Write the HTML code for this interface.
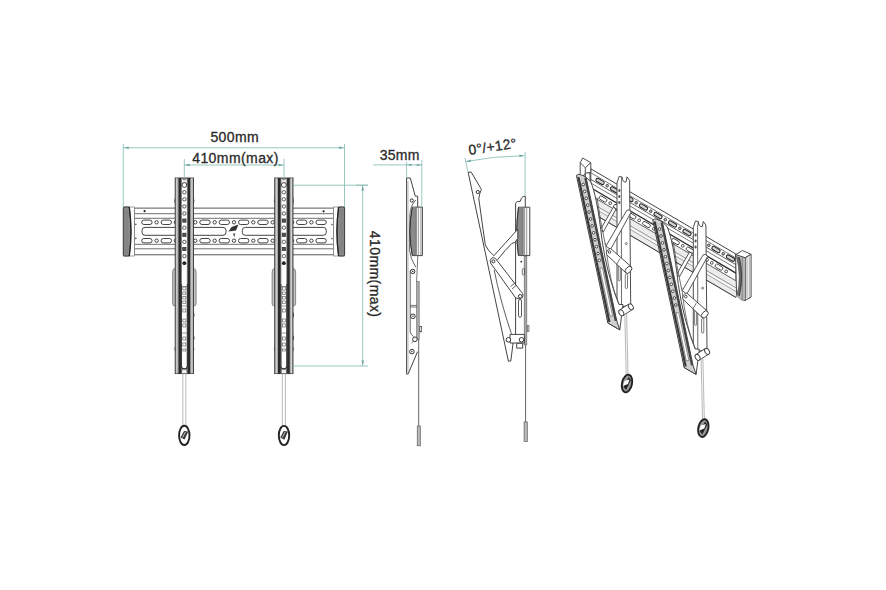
<!DOCTYPE html>
<html><head><meta charset="utf-8"><style>
html,body{margin:0;padding:0;background:#fff;}
svg{display:block;}
text{font-family:"Liberation Sans",sans-serif;fill:#2a2a2a;stroke:#2a2a2a;stroke-width:0.3px;letter-spacing:0.42px;}
</style></head><body>
<svg width="886" height="590" viewBox="0 0 886 590">
<rect width="886" height="590" fill="#fff"/>
<!-- ===== FRONT VIEW ===== -->
<g id="front">
<rect x="134.5" y="208.1" width="199" height="46.7" fill="#fff" stroke="#444" stroke-width="0.9"/>
<g stroke="#555" stroke-width="0.85" fill="none">
<line x1="134.5" y1="213.7" x2="333.5" y2="213.7"/>
<line x1="134.5" y1="218.3" x2="333.5" y2="218.3"/>
<line x1="134.5" y1="244.3" x2="333.5" y2="244.3"/>
<line x1="134.5" y1="248.8" x2="333.5" y2="248.8"/>
</g>
<g fill="#fff" stroke="#3a3a3a" stroke-width="0.95">
<circle cx="156.6" cy="222.3" r="1.7"/>
<circle cx="175.9" cy="222.3" r="1.7"/>
<circle cx="195.3" cy="222.3" r="1.7"/>
<circle cx="214.7" cy="222.3" r="1.7"/>
<circle cx="234.0" cy="222.3" r="1.7"/>
<circle cx="253.3" cy="222.3" r="1.7"/>
<circle cx="272.7" cy="222.3" r="1.7"/>
<circle cx="292.1" cy="222.3" r="1.7"/>
<circle cx="311.4" cy="222.3" r="1.7"/>
<rect x="141.7" y="220.1" width="10.4" height="4.4" rx="2.2"/>
<rect x="161.1" y="220.1" width="10.4" height="4.4" rx="2.2"/>
<rect x="180.4" y="220.1" width="10.4" height="4.4" rx="2.2"/>
<rect x="199.8" y="220.1" width="10.4" height="4.4" rx="2.2"/>
<rect x="219.1" y="220.1" width="10.4" height="4.4" rx="2.2"/>
<rect x="238.5" y="220.1" width="10.4" height="4.4" rx="2.2"/>
<rect x="257.8" y="220.1" width="10.4" height="4.4" rx="2.2"/>
<rect x="277.2" y="220.1" width="10.4" height="4.4" rx="2.2"/>
<rect x="296.5" y="220.1" width="10.4" height="4.4" rx="2.2"/>
<rect x="315.9" y="220.1" width="10.4" height="4.4" rx="2.2"/>
<circle cx="156.6" cy="240.7" r="1.7"/>
<circle cx="175.9" cy="240.7" r="1.7"/>
<circle cx="195.3" cy="240.7" r="1.7"/>
<circle cx="214.7" cy="240.7" r="1.7"/>
<circle cx="234.0" cy="240.7" r="1.7"/>
<circle cx="253.3" cy="240.7" r="1.7"/>
<circle cx="272.7" cy="240.7" r="1.7"/>
<circle cx="292.1" cy="240.7" r="1.7"/>
<circle cx="311.4" cy="240.7" r="1.7"/>
<rect x="141.7" y="238.5" width="10.4" height="4.4" rx="2.2"/>
<rect x="161.1" y="238.5" width="10.4" height="4.4" rx="2.2"/>
<rect x="180.4" y="238.5" width="10.4" height="4.4" rx="2.2"/>
<rect x="199.8" y="238.5" width="10.4" height="4.4" rx="2.2"/>
<rect x="219.1" y="238.5" width="10.4" height="4.4" rx="2.2"/>
<rect x="238.5" y="238.5" width="10.4" height="4.4" rx="2.2"/>
<rect x="257.8" y="238.5" width="10.4" height="4.4" rx="2.2"/>
<rect x="277.2" y="238.5" width="10.4" height="4.4" rx="2.2"/>
<rect x="296.5" y="238.5" width="10.4" height="4.4" rx="2.2"/>
<rect x="315.9" y="238.5" width="10.4" height="4.4" rx="2.2"/>
<rect x="142" y="227.4" width="84" height="7.9" rx="3"/>
<rect x="242.3" y="227.4" width="84" height="7.9" rx="3"/>
</g>
<g fill="#555"><circle cx="135.8" cy="224.4" r="0.8"/><circle cx="135.8" cy="238.4" r="0.8"/><circle cx="331.9" cy="224.6" r="0.8"/><circle cx="331.9" cy="238.6" r="0.8"/></g>
<circle cx="144.6" cy="211.2" r="1.1" fill="#222"/>
<circle cx="323.6" cy="211.3" r="1.1" fill="#222"/>
<path d="M228.5 231.5 L231.5 227 L238.5 224.5 L236 230.5 Z" fill="#333"/>
<path d="M233 233.5 l2.4 0 l-1.2 3.5z" fill="#444"/>
<rect x="123.3" y="207" width="11.2" height="49" fill="#fff" stroke="#777" stroke-width="0.7"/>
<path d="M123.3 208 Q123.3 207 124.8 207 L129.3 207 Q132.6 231.5 129.3 256 L124.8 256 Q123.3 256 123.3 255Z" fill="#8c8c8c" stroke="#333" stroke-width="0.9"/>
<path d="M129.3 207 Q132.6 231.5 129.3 256" fill="none" stroke="#222" stroke-width="1.3"/>
<line x1="124.8" y1="209" x2="124.8" y2="254" stroke="#777" stroke-width="0.5"/>
<line x1="126.3" y1="209" x2="126.3" y2="254" stroke="#777" stroke-width="0.5"/>
<line x1="127.8" y1="209" x2="127.8" y2="254" stroke="#777" stroke-width="0.5"/>
<rect x="333.40000000000003" y="207" width="11.2" height="49" fill="#fff" stroke="#777" stroke-width="0.7"/>
<path d="M344.6 208 Q344.6 207 343.1 207 L338.6 207 Q335.3 231.5 338.6 256 L343.1 256 Q344.6 256 344.6 255Z" fill="#8c8c8c" stroke="#333" stroke-width="0.9"/>
<path d="M338.6 207 Q335.3 231.5 338.6 256" fill="none" stroke="#222" stroke-width="1.3"/>
<line x1="343.1" y1="209" x2="343.1" y2="254" stroke="#777" stroke-width="0.5"/>
<line x1="341.6" y1="209" x2="341.6" y2="254" stroke="#777" stroke-width="0.5"/>
<line x1="340.1" y1="209" x2="340.1" y2="254" stroke="#777" stroke-width="0.5"/>
<path d="M175.2 196 Q173.39999999999998 200.5 175.2 205Z" fill="#666"/>
<path d="M193.5 196 Q195.3 200.5 193.5 205Z" fill="#666"/>
<path d="M175.2 268 Q172.2 269 172.6 273 L172.6 304 Q172.6 306 175.2 306" fill="#c4c4c4" stroke="#666" stroke-width="0.7"/>
<path d="M193.5 268 Q196.5 269 196.1 273 L196.1 304 Q196.1 306 193.5 306" fill="#c4c4c4" stroke="#666" stroke-width="0.7"/>
<path d="M175.2 346 Q173.39999999999998 349 175.2 352Z" fill="#666"/>
<path d="M193.5 346 Q195.3 349 193.5 352Z" fill="#666"/>
<path d="M193.5 312 Q195.5 315 193.5 318Z" fill="#333"/>
<path d="M193.5 335 Q195.5 338 193.5 341Z" fill="#333"/>
<rect x="175.2" y="178" width="18.3" height="195.60000000000002" fill="#a8a8a8" stroke="#333" stroke-width="0.9"/>
<line x1="176.79999999999998" y1="178" x2="176.79999999999998" y2="373.6" stroke="#ddd" stroke-width="0.9"/>
<line x1="191.9" y1="178" x2="191.9" y2="373.6" stroke="#ddd" stroke-width="0.9"/>
<rect x="178.5" y="178" width="2.9" height="195.60000000000002" fill="#2a2a2a"/>
<rect x="187.3" y="178" width="2.9" height="195.60000000000002" fill="#2a2a2a"/>
<path d="M181.39999999999998 178 Q184.35 181.5 187.3 178 L187.3 373.6 L181.39999999999998 373.6Z" fill="#eeeeee" stroke="#555" stroke-width="0.6"/>
<path d="M181.35 186 A3 3 0 0 1 187.35 186 L187.35 366 A3 3 0 0 1 181.35 366Z" fill="#fff" stroke="#555" stroke-width="0.75"/>
<path d="M181.35 284 L181.35 366 A3 3 0 0 0 187.35 366 L187.35 284" fill="none" stroke="#333" stroke-width="1.05"/>
<path d="M181.39999999999998 373.1 Q181.39999999999998 368.1 184.35 368.6 Q187.3 368.1 187.3 373.1" fill="none" stroke="#444" stroke-width="0.8"/>
<circle cx="184.35" cy="185" r="2.4" fill="#fff" stroke="#333" stroke-width="0.9"/>
<rect x="182.75" y="190.6" width="3.2" height="3.2" rx="1.2" fill="#fff" stroke="#333" stroke-width="0.8"/>
<rect x="182.75" y="197.7" width="3.2" height="3.2" rx="1.2" fill="#fff" stroke="#333" stroke-width="0.8"/>
<rect x="182.75" y="204.8" width="3.2" height="3.2" rx="1.2" fill="#fff" stroke="#333" stroke-width="0.8"/>
<rect x="182.75" y="211.9" width="3.2" height="3.2" rx="1.2" fill="#fff" stroke="#333" stroke-width="0.8"/>
<rect x="182.75" y="219.0" width="3.2" height="3.2" fill="#555" stroke="#333" stroke-width="0.8"/>
<rect x="182.75" y="226.1" width="3.2" height="3.2" rx="1.2" fill="#fff" stroke="#333" stroke-width="0.8"/>
<rect x="182.75" y="233.2" width="3.2" height="3.2" fill="#555" stroke="#333" stroke-width="0.8"/>
<rect x="182.75" y="240.3" width="3.2" height="3.2" rx="1.2" fill="#fff" stroke="#333" stroke-width="0.8"/>
<rect x="182.75" y="247.4" width="3.2" height="3.2" fill="#555" stroke="#333" stroke-width="0.8"/>
<rect x="182.75" y="254.5" width="3.2" height="3.2" rx="1.2" fill="#fff" stroke="#333" stroke-width="0.8"/>
<circle cx="184.35" cy="263.2" r="1.9" fill="#222"/>
<rect x="182.85" y="287" width="3" height="3" fill="#fff" stroke="#555" stroke-width="0.6"/>
<rect x="182.85" y="292" width="3" height="2.5" fill="#fff" stroke="#555" stroke-width="0.6"/>
<rect x="182.85" y="296.5" width="3" height="2.5" fill="#fff" stroke="#555" stroke-width="0.6"/>
<rect x="182.85" y="301" width="3" height="2.5" fill="#fff" stroke="#555" stroke-width="0.6"/>
<rect x="182.85" y="309" width="3" height="3" fill="#fff" stroke="#555" stroke-width="0.6"/>
<rect x="182.85" y="319" width="3" height="3" fill="#fff" stroke="#555" stroke-width="0.6"/>
<rect x="182.85" y="324" width="3" height="3" fill="#fff" stroke="#555" stroke-width="0.6"/>
<rect x="182.85" y="337" width="3" height="3" fill="#fff" stroke="#555" stroke-width="0.6"/>
<rect x="182.85" y="343" width="3" height="3" fill="#fff" stroke="#555" stroke-width="0.6"/>
<rect x="182.85" y="349" width="3" height="2" fill="#fff" stroke="#555" stroke-width="0.6"/>
<line x1="181.85" y1="286.5" x2="186.85" y2="286.5" stroke="#555" stroke-width="0.6"/>
<line x1="181.85" y1="306" x2="186.85" y2="306" stroke="#555" stroke-width="0.6"/>
<line x1="181.85" y1="333" x2="186.85" y2="333" stroke="#555" stroke-width="0.6"/>
<path d="M274.7 196 Q272.9 200.5 274.7 205Z" fill="#666"/>
<path d="M293.0 196 Q294.8 200.5 293.0 205Z" fill="#666"/>
<path d="M274.7 268 Q271.7 269 272.09999999999997 273 L272.09999999999997 304 Q272.09999999999997 306 274.7 306" fill="#c4c4c4" stroke="#666" stroke-width="0.7"/>
<path d="M293.0 268 Q296.0 269 295.6 273 L295.6 304 Q295.6 306 293.0 306" fill="#c4c4c4" stroke="#666" stroke-width="0.7"/>
<path d="M274.7 346 Q272.9 349 274.7 352Z" fill="#666"/>
<path d="M293.0 346 Q294.8 349 293.0 352Z" fill="#666"/>
<path d="M293.0 312 Q295.0 315 293.0 318Z" fill="#333"/>
<path d="M293.0 335 Q295.0 338 293.0 341Z" fill="#333"/>
<rect x="274.7" y="178" width="18.3" height="195.60000000000002" fill="#a8a8a8" stroke="#333" stroke-width="0.9"/>
<line x1="276.3" y1="178" x2="276.3" y2="373.6" stroke="#ddd" stroke-width="0.9"/>
<line x1="291.4" y1="178" x2="291.4" y2="373.6" stroke="#ddd" stroke-width="0.9"/>
<rect x="278.0" y="178" width="2.9" height="195.60000000000002" fill="#2a2a2a"/>
<rect x="286.8" y="178" width="2.9" height="195.60000000000002" fill="#2a2a2a"/>
<path d="M280.9 178 Q283.84999999999997 181.5 286.8 178 L286.8 373.6 L280.9 373.6Z" fill="#eeeeee" stroke="#555" stroke-width="0.6"/>
<path d="M280.84999999999997 186 A3 3 0 0 1 286.84999999999997 186 L286.84999999999997 366 A3 3 0 0 1 280.84999999999997 366Z" fill="#fff" stroke="#555" stroke-width="0.75"/>
<path d="M280.84999999999997 284 L280.84999999999997 366 A3 3 0 0 0 286.84999999999997 366 L286.84999999999997 284" fill="none" stroke="#333" stroke-width="1.05"/>
<path d="M280.9 373.1 Q280.9 368.1 283.84999999999997 368.6 Q286.8 368.1 286.8 373.1" fill="none" stroke="#444" stroke-width="0.8"/>
<circle cx="283.84999999999997" cy="185" r="2.4" fill="#fff" stroke="#333" stroke-width="0.9"/>
<rect x="282.24999999999994" y="190.6" width="3.2" height="3.2" rx="1.2" fill="#fff" stroke="#333" stroke-width="0.8"/>
<rect x="282.24999999999994" y="197.7" width="3.2" height="3.2" rx="1.2" fill="#fff" stroke="#333" stroke-width="0.8"/>
<rect x="282.24999999999994" y="204.8" width="3.2" height="3.2" rx="1.2" fill="#fff" stroke="#333" stroke-width="0.8"/>
<rect x="282.24999999999994" y="211.9" width="3.2" height="3.2" rx="1.2" fill="#fff" stroke="#333" stroke-width="0.8"/>
<rect x="282.24999999999994" y="219.0" width="3.2" height="3.2" fill="#555" stroke="#333" stroke-width="0.8"/>
<rect x="282.24999999999994" y="226.1" width="3.2" height="3.2" rx="1.2" fill="#fff" stroke="#333" stroke-width="0.8"/>
<rect x="282.24999999999994" y="233.2" width="3.2" height="3.2" fill="#555" stroke="#333" stroke-width="0.8"/>
<rect x="282.24999999999994" y="240.3" width="3.2" height="3.2" rx="1.2" fill="#fff" stroke="#333" stroke-width="0.8"/>
<rect x="282.24999999999994" y="247.4" width="3.2" height="3.2" fill="#555" stroke="#333" stroke-width="0.8"/>
<rect x="282.24999999999994" y="254.5" width="3.2" height="3.2" rx="1.2" fill="#fff" stroke="#333" stroke-width="0.8"/>
<circle cx="283.84999999999997" cy="263.2" r="1.9" fill="#222"/>
<rect x="282.34999999999997" y="287" width="3" height="3" fill="#fff" stroke="#555" stroke-width="0.6"/>
<rect x="282.34999999999997" y="292" width="3" height="2.5" fill="#fff" stroke="#555" stroke-width="0.6"/>
<rect x="282.34999999999997" y="296.5" width="3" height="2.5" fill="#fff" stroke="#555" stroke-width="0.6"/>
<rect x="282.34999999999997" y="301" width="3" height="2.5" fill="#fff" stroke="#555" stroke-width="0.6"/>
<rect x="282.34999999999997" y="309" width="3" height="3" fill="#fff" stroke="#555" stroke-width="0.6"/>
<rect x="282.34999999999997" y="319" width="3" height="3" fill="#fff" stroke="#555" stroke-width="0.6"/>
<rect x="282.34999999999997" y="324" width="3" height="3" fill="#fff" stroke="#555" stroke-width="0.6"/>
<rect x="282.34999999999997" y="337" width="3" height="3" fill="#fff" stroke="#555" stroke-width="0.6"/>
<rect x="282.34999999999997" y="343" width="3" height="3" fill="#fff" stroke="#555" stroke-width="0.6"/>
<rect x="282.34999999999997" y="349" width="3" height="2" fill="#fff" stroke="#555" stroke-width="0.6"/>
<line x1="281.34999999999997" y1="286.5" x2="286.34999999999997" y2="286.5" stroke="#555" stroke-width="0.6"/>
<line x1="281.34999999999997" y1="306" x2="286.34999999999997" y2="306" stroke="#555" stroke-width="0.6"/>
<line x1="281.34999999999997" y1="333" x2="286.34999999999997" y2="333" stroke="#555" stroke-width="0.6"/>
<g stroke="#999" stroke-width="0.7">
<line x1="182.85" y1="373.6" x2="182.85" y2="425.5"/>
<line x1="185.85" y1="373.6" x2="185.85" y2="425.5"/>
<line x1="282.35" y1="373.6" x2="282.35" y2="425.5"/>
<line x1="285.35" y1="373.6" x2="285.35" y2="425.5"/>
</g>
<g fill="#fff" stroke="#222" stroke-width="1.9">
<ellipse cx="184.3" cy="435.4" rx="5.2" ry="9.6"/>
<ellipse cx="284" cy="435.5" rx="5.2" ry="9.6"/>
</g>
<g fill="#3a3a3a"><path d="M180.5 437.5 L184 431 L188.3 431.5 L184.6 439.6Z"/><path d="M280.2 437.6 L283.7 431.1 L288 431.6 L284.3 439.7Z"/></g><g stroke="#fff" stroke-width="0.7"><line x1="182.5" y1="437.5" x2="185.5" y2="432"/><line x1="282.2" y1="437.6" x2="285.2" y2="432.1"/></g>
</g>
<!-- ===== SIDE VIEW ===== -->
<g id="side" fill="none" stroke="#3a3a3a" stroke-width="0.95" stroke-linejoin="miter">
<path d="M406.6 178 L406.6 374 L408.1 374 L417.6 351.6"/>
<path d="M406.6 178 L410.3 178 L415.3 196.2 L417.7 196.2 L417.7 207"/>
<line x1="408" y1="181" x2="408" y2="372" stroke="#888" stroke-width="0.6"/>
<path d="M415.8 200 Q410.2 205.5 409.9 215 L409.6 250 Q410 258 415.8 267.3" stroke="#555"/>
<line x1="417.8" y1="256" x2="416.6" y2="281.5" stroke="#555" stroke-width="0.8"/>
<path d="M410.2 271 L410.2 331.9 Q411 335 413.6 336.6" stroke="#555"/>
<path d="M411.5 343.4 L417.6 336" stroke="#555" stroke-width="0.8"/>
<rect x="416.6" y="281.5" width="2.6" height="58" fill="#aaa" stroke="#666" stroke-width="0.6"/>
<line x1="410.2" y1="305.4" x2="416.6" y2="305.4" stroke-width="0.7"/>
<line x1="410.2" y1="307" x2="416.6" y2="307" stroke-width="0.7"/>
<rect x="419.8" y="326.5" width="1.8" height="5.4" stroke-width="0.7"/>
<!-- plate -->
<path d="M412.4 207.1 L422.4 207.1 L422.4 255.6 L412.4 255.6 Q407.5 231.4 412.4 207.1Z" fill="#fff" stroke="#3a3a3a"/>
<path d="M412.4 207.6 Q408 231.4 412.4 255.1 L416.3 255.1 L416.3 207.6Z" fill="#8a8a8a" stroke="none"/>
<path d="M412.4 207.1 Q407.5 231.4 412.4 255.6" stroke="#333" stroke-width="1"/>
<line x1="416.3" y1="207.1" x2="416.3" y2="255.6" stroke="#555" stroke-width="0.7"/>
<line x1="418.3" y1="207.1" x2="418.3" y2="255.6" stroke="#666" stroke-width="0.7"/>
<line x1="420.9" y1="207.1" x2="420.9" y2="255.6" stroke="#666" stroke-width="0.7"/>
</g>
<g fill="#fff" stroke="#333" stroke-width="1">
<circle cx="411.8" cy="200.5" r="1.6"/>
<circle cx="412.7" cy="271.4" r="2.2"/>
<circle cx="412.9" cy="316.3" r="2.3"/>
<circle cx="414.9" cy="339.3" r="2.3"/>
<circle cx="411.9" cy="351.6" r="2.3"/>
</g>
<g fill="#444"><circle cx="412.7" cy="271.4" r="0.8"/><circle cx="412.9" cy="316.3" r="0.8"/><circle cx="411.9" cy="351.6" r="0.8"/></g>
<line x1="418.7" y1="339" x2="418.7" y2="426" stroke="#666" stroke-width="1"/>
<rect x="417.3" y="426" width="3" height="19.7" fill="#bbb" stroke="#666" stroke-width="0.8"/>

<!-- ===== TILT VIEW ===== -->
<g id="tilt" fill="none" stroke="#3a3a3a" stroke-width="0.95" stroke-linejoin="round">
<!-- tilted blade -->
<path d="M468.1 172.1 L471.2 172.1 L481.4 189.4 Q479.5 193 478.8 198.6 Q482 222 485.3 245 Q488 251 493.9 255.7" fill="#fff"/>
<path d="M468.1 172.1 L508.4 361.2 L510.8 361 L513.2 342.2"/>
<path d="M494.2 270 Q500 300 511.4 333.8" stroke="#555"/>
<!-- wall bracket -->
<path d="M515.7 203.3 Q516.5 201.5 517.7 201.5 L520.3 201.3 Q521 197.5 523.3 196.4 L525.3 196.4 L525.3 207.1" fill="#fff"/>
<line x1="515.6" y1="203.3" x2="515.6" y2="334.4"/>
<rect x="524.3" y="256" width="2.4" height="89" fill="#aaa" stroke="#555" stroke-width="0.6"/>
<circle cx="521.3" cy="261.7" r="0.9" fill="#333" stroke="none"/>
<rect x="522.3" y="268.5" width="2.4" height="6.5" rx="1.2" stroke-width="0.7"/>
<rect x="518.5" y="299.5" width="3" height="17.7" rx="1.5" stroke-width="0.85"/>
<rect x="527.3" y="325.5" width="1.6" height="6" stroke-width="0.7"/>
<!-- plate -->
<path d="M518.5 207.2 L529.8 207.2 L529.8 255.6 L518.5 255.6 Q515.2 231.4 518.5 207.2Z" fill="#fff" stroke="#3a3a3a"/>
<path d="M518.5 207.7 Q515.7 231.4 518.5 255.1 L523.2 255.1 L523.2 207.7Z" fill="#8a8a8a" stroke="none"/>
<path d="M518.5 207.2 Q515.2 231.4 518.5 255.6" stroke="#333" stroke-width="1"/>
<line x1="523.2" y1="207.2" x2="523.2" y2="255.6" stroke="#555" stroke-width="0.7"/>
<line x1="524.6" y1="207.2" x2="524.6" y2="255.6" stroke="#666" stroke-width="0.7"/>
<line x1="526.7" y1="207.2" x2="526.7" y2="255.6" stroke="#666" stroke-width="0.7"/>
<!-- upper arm -->
<path d="M493.9 255.7 L517.8 229.2 L517.8 238.4 L514.8 242.5 L511.7 243.5 L505.6 250.1 L505.1 250.6 L497.5 259.8" fill="#fff"/>
<!-- lower link -->
<path d="M491.2 258.6 Q493 256.5 495.5 258.5 L522.7 293.7 Q523.5 298 520 299 L515.6 297.8 L490.7 263.2 Q489.5 260.5 491.2 258.6Z" fill="#fff"/>
<line x1="510.5" y1="286.6" x2="514.5" y2="283.3" stroke-width="0.8"/>
<line x1="512" y1="289" x2="516" y2="285.5" stroke-width="0.8"/>
<!-- bottom pivot -->
<path d="M510 334.4 L524.4 334.4 L524.4 343 L510 343Z" fill="#fff"/>
<rect x="516.7" y="343.3" width="6" height="4.8" fill="#fff"/>
</g>
<g fill="#fff" stroke="#333" stroke-width="1">
<circle cx="477.8" cy="192" r="1.6"/>
<circle cx="493.4" cy="261.3" r="1.5"/>
<circle cx="520.2" cy="296.3" r="1.8"/>
<circle cx="508.4" cy="339.8" r="2.3"/>
<circle cx="521.5" cy="339.8" r="2.3"/>
</g>
<line x1="525.6" y1="345" x2="525.6" y2="422" stroke="#666" stroke-width="1"/>
<rect x="524.1" y="421.9" width="3.2" height="19.6" fill="#bbb" stroke="#666" stroke-width="0.8"/>
<!-- tilt dims -->
<g stroke="#86bdb5" stroke-width="0.85" fill="none">
<path d="M465.5 161.6 Q494 156 524.2 155.7"/>
<line x1="525.1" y1="152" x2="525.1" y2="196"/>
<line x1="465" y1="158" x2="467.8" y2="171.5"/>
<line x1="406.6" y1="162" x2="406.6" y2="178"/>
<line x1="421.8" y1="160" x2="421.8" y2="207"/>
<line x1="373.2" y1="164.9" x2="422" y2="164.9"/>
<line x1="356" y1="185.2" x2="367.6" y2="185.2"/>
</g>

<!-- ===== PERSPECTIVE VIEW ===== -->
<g id="persp" stroke-linejoin="round">
<path d="M590.8 168.8 L736.0 254.1 L736.0 297.4 L590.8 212.1Z" fill="#fff" stroke="#3a3a3a" stroke-width="0.95"/>
<path d="M590.8 195.5 L736.0 280.8 L736.0 297.4 L590.8 212.1Z" fill="#ececec" stroke="none"/>
<path d="M590.8 202.6 L736.0 287.9 L736.0 291.5 L590.8 206.2Z" fill="#f8f8f8" stroke="none"/>
<g fill="none" stroke-width="0.8">
<line x1="590.8" y1="172.8" x2="736" y2="258.1" stroke="#555" stroke-width="0.8"/>
<line x1="590.8" y1="179.4" x2="736" y2="264.7" stroke="#444" stroke-width="0.85"/>
<line x1="590.8" y1="183.0" x2="736" y2="268.3" stroke="#555" stroke-width="0.8"/>
<line x1="590.8" y1="187.8" x2="736" y2="273.1" stroke="#2a2a2a" stroke-width="1.3"/>
<line x1="590.8" y1="195.5" x2="736" y2="280.8" stroke="#444" stroke-width="0.85"/>
<line x1="590.8" y1="202.6" x2="736" y2="287.9" stroke="#777" stroke-width="0.8"/>
<line x1="590.8" y1="206.2" x2="736" y2="291.5" stroke="#888" stroke-width="0.75"/>
</g>
<line x1="590.8" y1="212.1" x2="736" y2="297.4" stroke="#3a3a3a" stroke-width="0.95"/>
<g fill="#fff" stroke="#333" stroke-width="0.85">
<rect x="595.5" y="179.7" width="9" height="3.4" rx="1.7" fill="#d5d5d5" stroke="#222" stroke-width="1" transform="rotate(30.4 600.0 181.4)"/>
<circle cx="607.2" cy="185.7" r="1.3" fill="#bbb"/>
<rect x="610.0" y="188.2" width="9" height="3.4" rx="1.7" fill="#d5d5d5" stroke="#222" stroke-width="1" transform="rotate(30.4 614.5 189.9)"/>
<circle cx="621.8" cy="194.2" r="1.3" fill="#bbb"/>
<rect x="624.5" y="196.7" width="9" height="3.4" rx="1.7" fill="#d5d5d5" stroke="#222" stroke-width="1" transform="rotate(30.4 629.0 198.4)"/>
<circle cx="636.2" cy="202.7" r="1.3" fill="#bbb"/>
<rect x="639.0" y="205.3" width="9" height="3.4" rx="1.7" fill="#d5d5d5" stroke="#222" stroke-width="1" transform="rotate(30.4 643.5 207.0)"/>
<circle cx="650.8" cy="211.2" r="1.3" fill="#bbb"/>
<rect x="653.5" y="213.8" width="9" height="3.4" rx="1.7" fill="#d5d5d5" stroke="#222" stroke-width="1" transform="rotate(30.4 658.0 215.5)"/>
<circle cx="665.2" cy="219.7" r="1.3" fill="#bbb"/>
<rect x="668.0" y="222.3" width="9" height="3.4" rx="1.7" fill="#d5d5d5" stroke="#222" stroke-width="1" transform="rotate(30.4 672.5 224.0)"/>
<circle cx="679.8" cy="228.3" r="1.3" fill="#bbb"/>
<rect x="682.5" y="230.8" width="9" height="3.4" rx="1.7" fill="#d5d5d5" stroke="#222" stroke-width="1" transform="rotate(30.4 687.0 232.5)"/>
<circle cx="694.2" cy="236.8" r="1.3" fill="#bbb"/>
<rect x="697.0" y="239.3" width="9" height="3.4" rx="1.7" fill="#d5d5d5" stroke="#222" stroke-width="1" transform="rotate(30.4 701.5 241.0)"/>
<circle cx="708.8" cy="245.3" r="1.3" fill="#bbb"/>
<rect x="711.5" y="247.8" width="9" height="3.4" rx="1.7" fill="#d5d5d5" stroke="#222" stroke-width="1" transform="rotate(30.4 716.0 249.5)"/>
<circle cx="723.2" cy="253.8" r="1.3" fill="#bbb"/>
<rect x="726.0" y="256.4" width="9" height="3.4" rx="1.7" fill="#d5d5d5" stroke="#222" stroke-width="1" transform="rotate(30.4 730.5 258.1)"/>
<rect x="598.8" y="197.2" width="8.4" height="3.6" rx="1.8" transform="rotate(30.4 603.0 199.0)"/>
<circle cx="610.2" cy="203.2" r="1.4"/>
<rect x="613.3" y="205.7" width="8.4" height="3.6" rx="1.8" transform="rotate(30.4 617.5 207.5)"/>
<circle cx="624.8" cy="211.7" r="1.4"/>
<rect x="627.8" y="214.2" width="8.4" height="3.6" rx="1.8" transform="rotate(30.4 632.0 216.0)"/>
<circle cx="639.2" cy="220.3" r="1.4"/>
<rect x="642.3" y="222.7" width="8.4" height="3.6" rx="1.8" transform="rotate(30.4 646.5 224.5)"/>
<circle cx="653.8" cy="228.8" r="1.4"/>
<rect x="656.8" y="231.2" width="8.4" height="3.6" rx="1.8" transform="rotate(30.4 661.0 233.0)"/>
<circle cx="668.2" cy="237.3" r="1.4"/>
<rect x="671.3" y="239.8" width="8.4" height="3.6" rx="1.8" transform="rotate(30.4 675.5 241.6)"/>
<circle cx="682.8" cy="245.8" r="1.4"/>
<rect x="685.8" y="248.3" width="8.4" height="3.6" rx="1.8" transform="rotate(30.4 690.0 250.1)"/>
<circle cx="697.2" cy="254.3" r="1.4"/>
<rect x="700.3" y="256.8" width="8.4" height="3.6" rx="1.8" transform="rotate(30.4 704.5 258.6)"/>
<circle cx="711.8" cy="262.9" r="1.4"/>
<rect x="714.8" y="265.3" width="8.4" height="3.6" rx="1.8" transform="rotate(30.4 719.0 267.1)"/>
<circle cx="726.2" cy="271.4" r="1.4"/>
</g>
<path d="M735.6 254.7 L742.5 250.5 L751.1 254.4 L745 257.8Z" fill="#fff" stroke="#3a3a3a" stroke-width="0.9"/>
<path d="M745 257.8 L751.1 254.4 L751.1 297.1 L745 300.5Z" fill="#fff" stroke="#3a3a3a" stroke-width="0.9"/>
<path d="M735.6 254.7 L745 257.8 L745 300.5 L741 299.6 L736.6 295Z" fill="#fff" stroke="#3a3a3a" stroke-width="0.9"/>
<path d="M736 256 L745 258.3 L745 300 L741 299.3 L736.8 294.5 Q741.5 277 736 256Z" fill="#b5b5b5" stroke="none"/>
<path d="M736 256 Q741.5 277 736.8 294.5 L739.3 296 Q744 277 739.3 257Z" fill="#666" stroke="none"/>
<path d="M739.3 257 Q744 277 739.3 296" fill="none" stroke="#333" stroke-width="0.9"/>
<line x1="742.3" y1="256.8" x2="742.3" y2="299.5" stroke="#666" stroke-width="0.6"/>
<line x1="747" y1="256.5" x2="747" y2="298.5" stroke="#666" stroke-width="0.6"/>
<line x1="749.3" y1="256.5" x2="749.3" y2="298.5" stroke="#666" stroke-width="0.6"/>
<g fill="#fff" stroke="#3a3a3a" stroke-width="0.9">
<path d="M580.2 162.7 L582.7 158 L590.8 162.7 L590.8 172 L585.3 174 L580.2 178Z"/>
<path d="M580.2 162.7 L585.3 167.8 L590.8 162.7" fill="none"/>
<line x1="585.3" y1="167.8" x2="585.3" y2="184" />
<path d="M585.3 172.9 L590 172.9 L590 183 L585.3 183Z"/>
</g>
<g id="asm1"><g fill="#fff" stroke="#3a3a3a" stroke-width="0.9">
<path d="M617 305 L617 182.8 L619.2 176.3 L622 177 Q622.5 182.5 626 182 L627 176.9 L629.6 180.4 L630.7 304.6 L621.5 307Z"/>
<line x1="621.3" y1="183" x2="621.5" y2="306" stroke-width="0.75"/>
<path d="M622 177 L621.3 183" fill="none" stroke-width="0.75"/>
</g>
<g fill="#555" stroke="none">
<rect x="618.3" y="189.0" width="2" height="3" rx="1"/>
<rect x="618.3" y="195.0" width="2" height="3" rx="1"/>
<rect x="618.3" y="201.0" width="2" height="3" rx="1"/>
</g>
<g fill="#fff" stroke="#444" stroke-width="0.7">
<rect x="625.3" y="274" width="2.2" height="14.5" rx="1.1"/>
<rect x="618.3" y="264" width="2" height="16.8" rx="1"/>
<circle cx="626.3" cy="243.6" r="1"/>
</g>
<g fill="#fff" stroke="#3a3a3a" stroke-width="0.85">
<path d="M600.3 229.8 L613.3 207.3 L616 209 L603.3 232Z"/>
<path d="M606 246 L626.8 210.3 Q629.5 208.5 631.2 212 L610.5 249.5Z"/>
</g>
<g stroke="#333" stroke-width="0.9">
<path d="M585.7 177 L590.5 181.5 Q597 195 602 240 Q607 275 619 304.4 L623 304.6 L619.8 329.8 L607.9 323Z" fill="#fff"/>
<path d="M597 197.5 Q600 220 605.4 245" fill="none" stroke-width="0.7"/>
<path d="M605.4 243 Q610 285 619 304.4" fill="none" stroke="#555" stroke-width="0.8"/>
<path d="M576.4 175.4 Q578 173.8 580.5 174.6 L586.0 177 L616.8 321 L619.8 329.8 L607.9 323Z" fill="#d0d0d0"/>
<path d="M577.3 177 L579.5 177 L610.5 322 L608.3 322Z" fill="#3a3a3a" stroke="none"/>
<path d="M584.2 178 L586.3 178 L616.8 321 L614.7 321Z" fill="#444" stroke="none"/>
<path d="M599.8 268 L602.4 268 L612.6 316 L610.0 316Z" fill="#fff" stroke="#555" stroke-width="0.6"/>
</g>
<g fill="#fff" stroke="#222" stroke-width="0.8">
<circle cx="583.2" cy="184.5" r="1.35"/>
<circle cx="584.7" cy="191.4" r="1.35"/>
<circle cx="586.2" cy="198.3" r="1.35"/>
<circle cx="587.7" cy="205.2" r="1.35"/>
<circle cx="589.1" cy="212.1" r="1.35"/>
<circle cx="590.6" cy="219.0" r="1.35"/>
<circle cx="592.1" cy="225.9" r="1.35"/>
<circle cx="593.6" cy="232.8" r="1.35"/>
<circle cx="595.0" cy="239.7" r="1.35"/>
<circle cx="596.5" cy="246.6" r="1.35"/>
<circle cx="598.0" cy="253.5" r="1.35"/>
<circle cx="599.5" cy="260.4" r="1.35"/>
</g>
<g fill="#fff" stroke="#3a3a3a" stroke-width="0.9">
<path d="M606.6 254.6 Q605.5 250 610.5 248.5 L631 266.5 L626 273 Z"/>
<ellipse cx="628.5" cy="269.8" rx="2.6" ry="4.1" transform="rotate(42 628.5 269.8)"/>
<circle cx="609.5" cy="252" r="1.3"/>
<line x1="620" y1="258.5" x2="616.5" y2="264.5" stroke-width="0.7"/>
<path d="M619.5 310 L629 304 L632.5 309.5 L623 315.5Z"/>
<ellipse cx="621.3" cy="312.8" rx="2.2" ry="3.2" transform="rotate(-32 621.3 312.8)"/>
<ellipse cx="630.8" cy="306.8" rx="2.2" ry="3.2" transform="rotate(-32 630.8 306.8)"/>
</g>
<g stroke="#999" stroke-width="0.7">
<line x1="624.8" y1="314" x2="626.2" y2="374.5"/><line x1="626.6" y1="314" x2="628" y2="374.5"/>
</g>
<ellipse cx="627" cy="383.5" rx="5" ry="9" transform="rotate(12 627 383.5)" fill="#9a9a9a" stroke="#222" stroke-width="1.9"/>
<path d="M623.5 386.5 L628.8 377 L631 380 L626 390Z" fill="#222"/><path d="M624.5 381 L629.5 379.5 L628 384 L623 386Z" fill="#fff"/></g>
<g transform="translate(76.3 44.6)"><g fill="#fff" stroke="#3a3a3a" stroke-width="0.9">
<path d="M617 305 L617 182.8 L619.2 176.3 L622 177 Q622.5 182.5 626 182 L627 176.9 L629.6 180.4 L630.7 304.6 L621.5 307Z"/>
<line x1="621.3" y1="183" x2="621.5" y2="306" stroke-width="0.75"/>
<path d="M622 177 L621.3 183" fill="none" stroke-width="0.75"/>
</g>
<g fill="#555" stroke="none">
<rect x="618.3" y="189.0" width="2" height="3" rx="1"/>
<rect x="618.3" y="195.0" width="2" height="3" rx="1"/>
<rect x="618.3" y="201.0" width="2" height="3" rx="1"/>
</g>
<g fill="#fff" stroke="#444" stroke-width="0.7">
<rect x="625.3" y="274" width="2.2" height="14.5" rx="1.1"/>
<rect x="618.3" y="264" width="2" height="16.8" rx="1"/>
<circle cx="626.3" cy="243.6" r="1"/>
</g>
<g fill="#fff" stroke="#3a3a3a" stroke-width="0.85">
<path d="M600.3 229.8 L613.3 207.3 L616 209 L603.3 232Z"/>
<path d="M606 246 L626.8 210.3 Q629.5 208.5 631.2 212 L610.5 249.5Z"/>
</g>
<g stroke="#333" stroke-width="0.9">
<path d="M585.7 177 L590.5 181.5 Q597 195 602 240 Q607 275 619 304.4 L623 304.6 L619.8 329.8 L607.9 323Z" fill="#fff"/>
<path d="M597 197.5 Q600 220 605.4 245" fill="none" stroke-width="0.7"/>
<path d="M605.4 243 Q610 285 619 304.4" fill="none" stroke="#555" stroke-width="0.8"/>
<path d="M576.4 175.4 Q578 173.8 580.5 174.6 L586.0 177 L616.8 321 L619.8 329.8 L607.9 323Z" fill="#d0d0d0"/>
<path d="M577.3 177 L579.5 177 L610.5 322 L608.3 322Z" fill="#3a3a3a" stroke="none"/>
<path d="M584.2 178 L586.3 178 L616.8 321 L614.7 321Z" fill="#444" stroke="none"/>
<path d="M599.8 268 L602.4 268 L612.6 316 L610.0 316Z" fill="#fff" stroke="#555" stroke-width="0.6"/>
</g>
<g fill="#fff" stroke="#222" stroke-width="0.8">
<circle cx="583.2" cy="184.5" r="1.35"/>
<circle cx="584.7" cy="191.4" r="1.35"/>
<circle cx="586.2" cy="198.3" r="1.35"/>
<circle cx="587.7" cy="205.2" r="1.35"/>
<circle cx="589.1" cy="212.1" r="1.35"/>
<circle cx="590.6" cy="219.0" r="1.35"/>
<circle cx="592.1" cy="225.9" r="1.35"/>
<circle cx="593.6" cy="232.8" r="1.35"/>
<circle cx="595.0" cy="239.7" r="1.35"/>
<circle cx="596.5" cy="246.6" r="1.35"/>
<circle cx="598.0" cy="253.5" r="1.35"/>
<circle cx="599.5" cy="260.4" r="1.35"/>
</g>
<g fill="#fff" stroke="#3a3a3a" stroke-width="0.9">
<path d="M606.6 254.6 Q605.5 250 610.5 248.5 L631 266.5 L626 273 Z"/>
<ellipse cx="628.5" cy="269.8" rx="2.6" ry="4.1" transform="rotate(42 628.5 269.8)"/>
<circle cx="609.5" cy="252" r="1.3"/>
<line x1="620" y1="258.5" x2="616.5" y2="264.5" stroke-width="0.7"/>
<path d="M619.5 310 L629 304 L632.5 309.5 L623 315.5Z"/>
<ellipse cx="621.3" cy="312.8" rx="2.2" ry="3.2" transform="rotate(-32 621.3 312.8)"/>
<ellipse cx="630.8" cy="306.8" rx="2.2" ry="3.2" transform="rotate(-32 630.8 306.8)"/>
</g>
<g stroke="#999" stroke-width="0.7">
<line x1="624.8" y1="314" x2="626.2" y2="374.5"/><line x1="626.6" y1="314" x2="628" y2="374.5"/>
</g>
<ellipse cx="627" cy="383.5" rx="5" ry="9" transform="rotate(12 627 383.5)" fill="#9a9a9a" stroke="#222" stroke-width="1.9"/>
<path d="M623.5 386.5 L628.8 377 L631 380 L626 390Z" fill="#222"/><path d="M624.5 381 L629.5 379.5 L628 384 L623 386Z" fill="#fff"/></g>
</g>
<!-- ===== DIMENSIONS ===== -->
<g stroke="#86bdb5" stroke-width="0.85" fill="none">
<line x1="123.3" y1="144" x2="123.3" y2="207"/>
<line x1="344.5" y1="144" x2="344.5" y2="207"/>
<line x1="123.3" y1="147.8" x2="344.5" y2="147.8"/>
<line x1="184.3" y1="159" x2="184.3" y2="178"/>
<line x1="284" y1="159" x2="284" y2="178"/>
<line x1="184.3" y1="165" x2="284" y2="165"/>
<line x1="293.5" y1="185.2" x2="368" y2="185.2"/>
<line x1="293.5" y1="366" x2="368" y2="366"/>
<line x1="362.7" y1="185.2" x2="362.7" y2="366"/>
</g>
<g fill="#6fa8a0" stroke="none">
<path d="M123.8 147.8 l5 -1.3 l0 2.6z"/><path d="M344 147.8 l-5 -1.3 l0 2.6z"/>
<path d="M184.8 165 l5 -1.3 l0 2.6z"/><path d="M283.5 165 l-5 -1.3 l0 2.6z"/>
<path d="M362.7 185.7 l-1.3 5 l2.6 0z"/><path d="M362.7 365.5 l-1.3 -5 l2.6 0z"/>
<path d="M407.2 164.9 l4.5 -1.2 l0 2.4z"/><path d="M421.3 164.9 l-4.5 -1.2 l0 2.4z"/>
<path d="M466 161.5 l4.6 -2 l0.4 2.4z"/><path d="M524.2 155.7 l-4.8 -1.1 l0 2.4z"/>
</g>
<text x="210.4" y="141.7" font-size="14">500mm</text>
<text x="192.2" y="162.5" font-size="14">410mm(max)</text>
<text transform="translate(369.8,230.8) rotate(90)" font-size="14">410mm(max)</text>
<text x="379.8" y="159.5" font-size="14" style="letter-spacing:0.25px">35mm</text>
<text transform="translate(469.2,155) rotate(-8.5)" font-size="14" style="letter-spacing:0.3px">0°/+12°</text>

</svg>
</body></html>
